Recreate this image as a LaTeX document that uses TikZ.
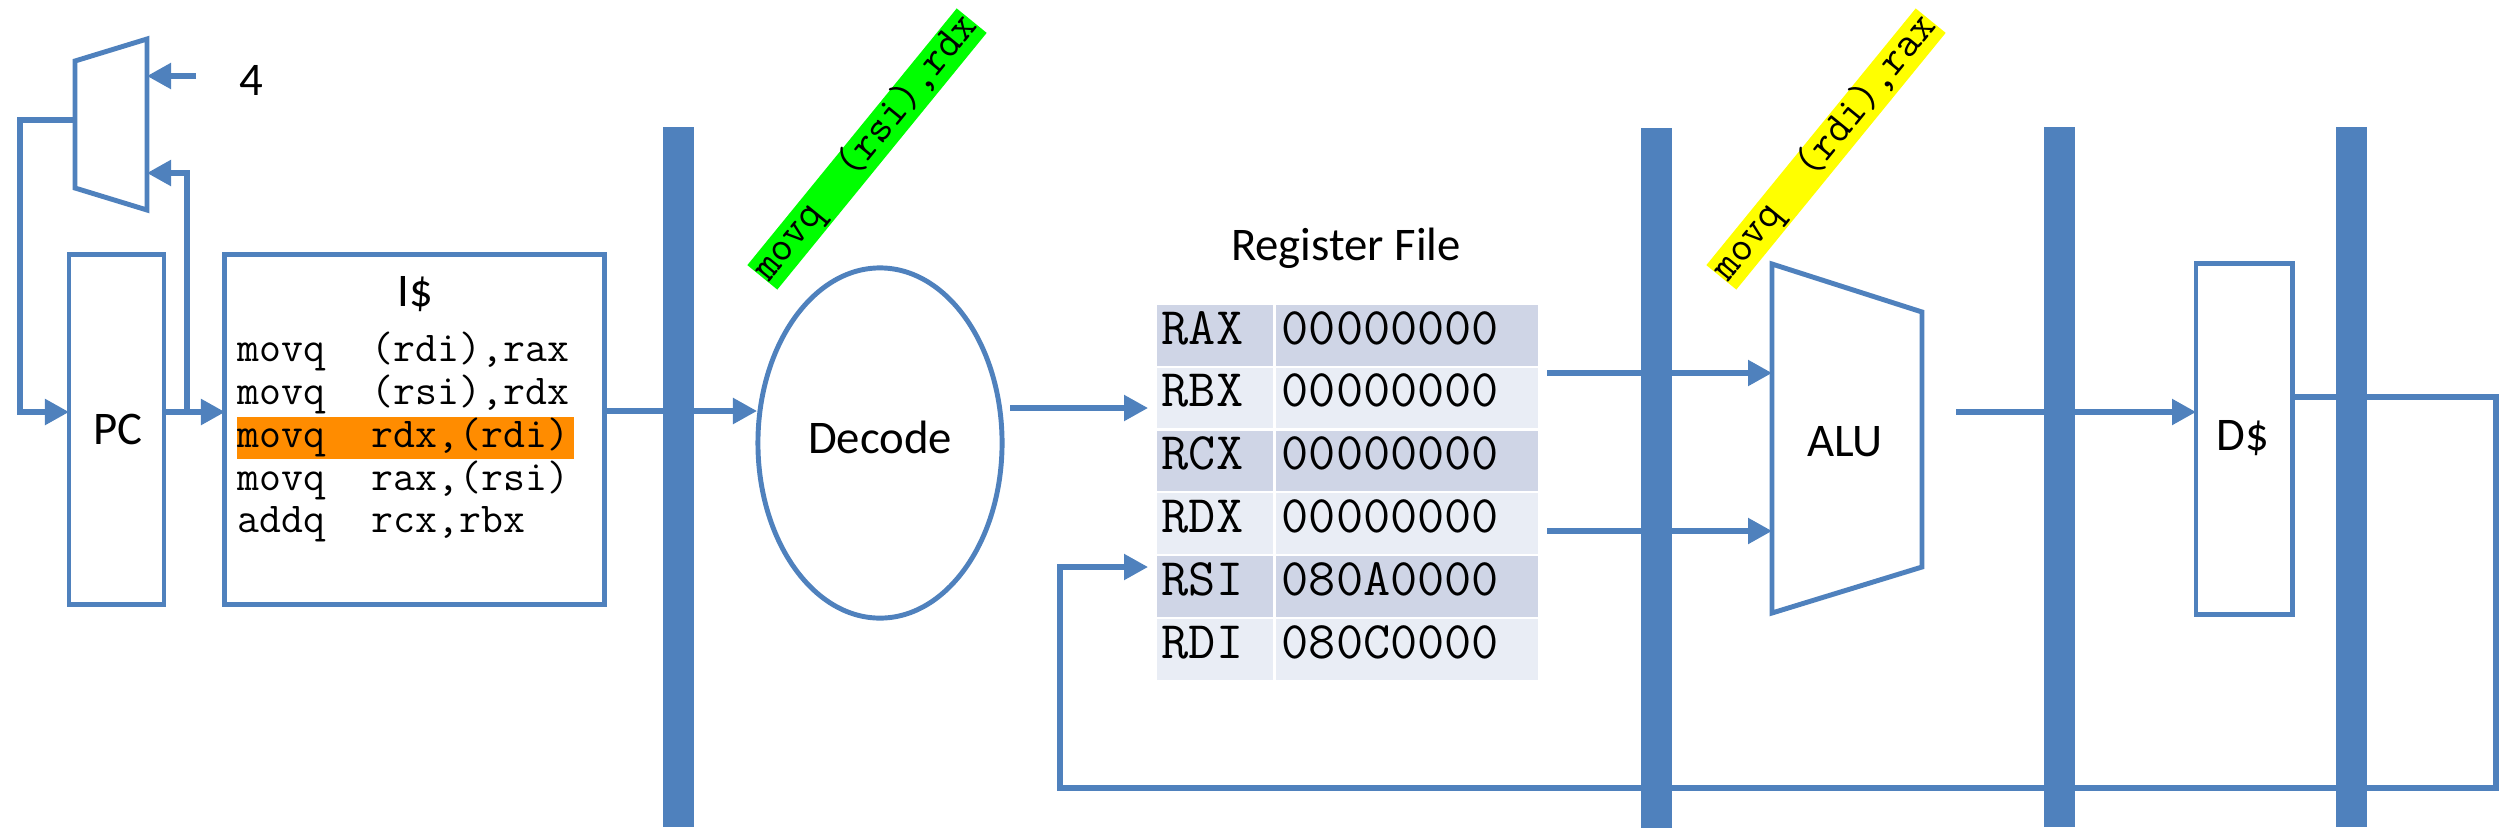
\documentclass[tikz,border=0pt]{standalone}
\usepackage{fontspec}
\setmainfont{Carlito}
\newfontfamily\codefont{Latin Modern Mono}
\usetikzlibrary{arrows.meta,shapes.geometric}
\definecolor{pblue}{HTML}{4F81BD}
\definecolor{rowdark}{HTML}{CFD5E6}
\definecolor{rowlight}{HTML}{E9EDF5}
\definecolor{hiorange}{HTML}{FF8C00}
\definecolor{tagyellow}{HTML}{FFFF00}
\definecolor{taggreen}{HTML}{00FF00}
\begin{document}
\begin{tikzpicture}[x=0.01cm,y=-0.01cm,
  wire/.style={draw=pblue,line width=1.5pt},
  arr/.style={wire,-{Triangle[length=0.24cm,width=0.25cm]}},
  box/.style={draw=pblue,line width=1.4pt,fill=white,inner sep=0pt},
  bar/.style={fill=pblue,draw=none,inner sep=0pt,minimum width=0.31cm,minimum height=7cm},
  lbl/.style={font=\fontsize{13.3pt}{16pt}\selectfont,inner sep=0pt},
  code/.style={font=\codefont\fontsize{12.1pt}{14pt}\selectfont,inner sep=0pt,anchor=west,text height=0.72em,text depth=0.22em},
  reg/.style={font=\codefont\fontsize{15pt}{18pt}\selectfont,inner sep=0pt,anchor=west,text height=0.72em,text depth=0.22em},
  cell/.style={draw=none,inner sep=0pt,minimum height=0.605cm,anchor=west},
  tag/.style={font=\codefont\fontsize{12.1pt}{14pt}\selectfont,inner xsep=0pt,inner ysep=0.8pt,text height=0.72em,text depth=0.22em,rotate=50.8}
]
\useasboundingbox (0,0) rectangle (2503,836);

% ---------- coordinates ----------
\coordinate (m1) at (75,61);
\coordinate (m2) at (147,39);
\coordinate (m3) at (147,210);
\coordinate (m4) at (75,188);
\coordinate (fourin) at (196,76);
\coordinate (muxa) at (147,76);
\coordinate (muxb) at (147,173);
\coordinate (muxout) at (75,120);
\coordinate (fbl) at (20,120);
\coordinate (pcin) at (69,412);
\coordinate (pcout) at (164,412);
\coordinate (br) at (187,412);
\coordinate (icin) at (225,412);
\coordinate (icout) at (604,411);
\coordinate (decin) at (757,411);
\coordinate (decout) at (1010,408);
\coordinate (rfin1) at (1148,408);
\coordinate (rfin2) at (1148,567);
\coordinate (rfo1) at (1547,373);
\coordinate (rfo2) at (1547,531);
\coordinate (alua) at (1772,373);
\coordinate (alub) at (1772,531);
\coordinate (a1) at (1772,264);
\coordinate (a2) at (1922,312);
\coordinate (a3) at (1922,567);
\coordinate (a4) at (1772,613);
\coordinate (aluout) at (1956,412);
\coordinate (dsin) at (2196,412);
\coordinate (dsout) at (2292,397);
\coordinate (fr1) at (2496,397);
\coordinate (fr2) at (2496,788);
\coordinate (fr3) at (1060,788);

% ---------- mux ----------
\draw[box] (m1) -- (m2) -- (m3) -- (m4) -- cycle;
\node[lbl] (four) at (251,80) {4};

% ---------- PC and I$ ----------
\node[box,minimum width=0.95cm,minimum height=3.49cm] (pc) at (116.5,429.5) {};
\node[lbl] (pclbl) at (118,429) {PC};
\node[box,minimum width=3.79cm,minimum height=3.49cm] (ic) at (414.5,429.5) {};
\node[lbl] (iclbl) at (415,294) {I\$};
\fill[hiorange] (237,417) rectangle (574,459);
\node[code] (c1) at (237,353) {\makebox[3.15em][l]{movq}(rdi),rax};
\node[code] (c2) at (237,396) {\makebox[3.15em][l]{movq}(rsi),rdx};
\node[code] (c3) at (237,439) {\makebox[3.15em][l]{movq}rdx,(rdi)};
\node[code] (c4) at (237,482) {\makebox[3.15em][l]{movq}rax,(rsi)};
\node[code] (c5) at (237,524) {\makebox[3.15em][l]{addq}rcx,rbx};

% ---------- Decode ----------
\node[box,ellipse,minimum width=2.44cm,minimum height=3.50cm] (dec) at (880,443) {};
\node[lbl] (declbl) at (880,437) {Decode};
\node[tag,fill=taggreen] (tagg) at (867,149) {\makebox[3.15em][l]{movq}(rsi),rdx};

% ---------- Register file ----------
\node[lbl] (rftitle) at (1346,248) {Register File};
\foreach \i/\r/\v/\c in {0/RAX/00000000/rowdark,1/RBX/00000000/rowlight,2/RCX/00000000/rowdark,3/RDX/00000000/rowlight,4/RSI/080A0000/rowdark,5/RDI/080C0000/rowlight}{
  \pgfmathsetmacro{\yy}{305+62.8*\i+30.25}
  \node[cell,fill=\c,minimum width=1.16cm] (rn\i) at (1156,\yy) {};
  \node[cell,fill=\c,minimum width=2.62cm] (rv\i) at (1275,\yy) {};
  \node[reg] (rt\i) at (1161,\yy) {\r};
  \node[reg] (vt\i) at (1281,\yy) {\v};
}

% ---------- ALU ----------
\draw[box] (a1) -- (a2) -- (a3) -- (a4) -- cycle;
\node[lbl] (alulbl) at (1845,442) {ALU};
\node[tag,fill=tagyellow] (tagy) at (1826,149) {\makebox[3.15em][l]{movq}(rdi),rax};

% ---------- D$ ----------
\node[box,minimum width=0.96cm,minimum height=3.50cm] (ds) at (2244,439) {};
\node[lbl] (dslbl) at (2243,438) {D\$};

% ---------- connectors ----------
\draw[arr] (fourin) -- (muxa);
\draw[arr] (muxout) -- (fbl) |- (pcin);
\draw[arr] (pcout) -- (icin);
\draw[arr] (br) |- (muxb);
\draw[arr] (icout) -- (decin);
\draw[arr] (decout) -- (rfin1);
\draw[arr] (dsout) -- (fr1) -- (fr2) -- (fr3) |- (rfin2);
\draw[arr] (rfo1) -- (alua);
\draw[arr] (rfo2) -- (alub);
\draw[arr] (aluout) -- (dsin);

% ---------- pipeline bars ----------
\node[bar] (bar1) at (678.5,477) {};
\node[bar] (bar2) at (1656,478) {};
\node[bar] (bar3) at (2059.5,477) {};
\node[bar] (bar4) at (2351.5,477) {};
\end{tikzpicture}
\end{document}
